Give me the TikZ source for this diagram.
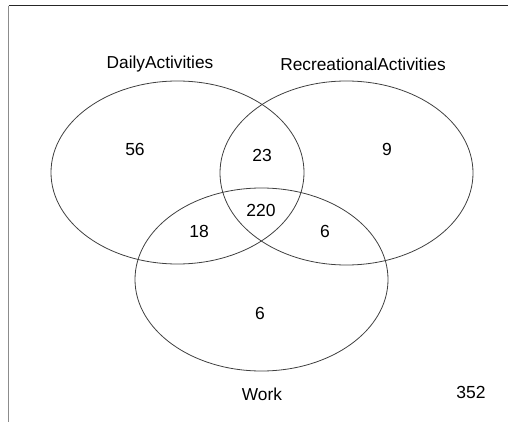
\documentclass[tikz,border=0pt]{standalone}
\usepackage{fontspec}
\setmainfont{Liberation Sans}
\begin{document}
\begin{tikzpicture}[x=1pt,y=-1pt,
  setring/.style={draw=black!75,line width=0.8pt},
  setname/.style={font=\fontsize{17.3}{20}\selectfont,inner sep=0pt},
  count/.style={font=\fontsize{17.5}{20}\selectfont,inner sep=0pt}]
\useasboundingbox (0,0) rectangle (508,422);
% frame edges
\draw[black!85,line width=1pt] (8.5,6) -- (508,6);
\draw[black!45,line width=1pt] (8.5,6) -- (8.5,422);
% the three sets
\draw[setring] (177.5,172.5) ellipse [x radius=126.5, y radius=91.5];
\draw[setring] (346.5,173) ellipse [x radius=126.5, y radius=92];
\draw[setring] (261.5,279.5) ellipse [x radius=126.5, y radius=91.5];
% set names
\node[setname] (daily) at (160,64) {DailyActivities};
\node[setname] (recr) at (363,64) {RecreationalActivities};
\node[setname] (work) at (262,394) {Work};
% region counts
\node[count] (c56) at (135,149.5) {56};
\node[count] (c23) at (262,155.5) {23};
\node[count] (c9) at (387,149.5) {9};
\node[count] (c220) at (261,210.5) {220};
\node[count] (c18) at (199,231.5) {18};
\node[count] (c6a) at (325,231.5) {6};
\node[count] (c6b) at (260,313.5) {6};
\node[count] (c352) at (471,392.5) {352};
\end{tikzpicture}
\end{document}
